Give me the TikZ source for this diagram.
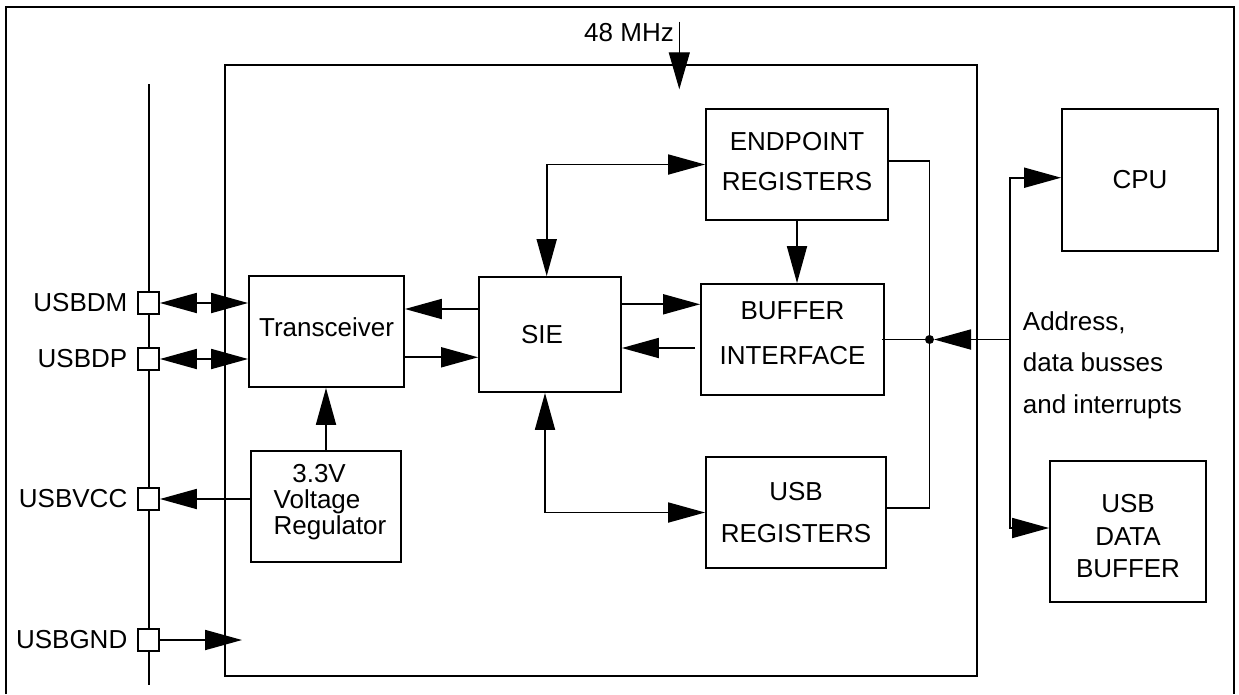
\documentclass[tikz,border=0pt]{standalone}
\usepackage{fontspec}
\setmainfont{Liberation Sans}
\usetikzlibrary{arrows.meta}
\newcommand\dropby[1]{\rule[-#1]{0pt}{#1}}
\newcommand\liftby[1]{\rule{0pt}{#1}}
\begin{document}
\begin{tikzpicture}[x=1pt,y=-1pt,
  font=\fontsize{26}{31}\selectfont,
  blk/.style={draw,line width=1.8pt,inner sep=0pt,align=center},
  pin/.style={draw,fill=white,line width=1.8pt,minimum width=21pt,minimum height=22pt,inner sep=0pt},
  lbl/.style={inner sep=0pt},
  conn/.style={line width=1.8pt},
  arr/.style={conn,-{Triangle[length=37pt,width=20pt]}},
  darr/.style={conn,{Triangle[length=37pt,width=20pt]}-{Triangle[length=37pt,width=20pt]}},
  frame/.style={line width=2.4pt}]
\useasboundingbox (0,0) rectangle (1239,694);
% outer frame
\draw[frame] (6,694) -- (6,7) -- (1234,7) -- (1234,694);
% chip
\node[draw,line width=2.4pt,minimum width=752pt,minimum height=611pt,inner sep=0pt] (chip) at (601,370.5) {};
% left bus
\coordinate (bustop) at (148.5,84);
\coordinate (busbot) at (148.5,685);
\draw[line width=2pt] (bustop) -- (busbot);
% pins
\node[pin] (pDM) at (148.5,303) {};
\node[pin] (pDP) at (148.5,359) {};
\node[pin] (pVCC) at (148.5,499) {};
\node[pin] (pGND) at (148.5,640) {};
\node[lbl,anchor=east] (lDM) at (127.5,303) {USBDM};
\node[lbl,anchor=east] (lDP) at (127.5,359) {USBDP};
\node[lbl,anchor=east] (lVCC) at (127.5,499) {USBVCC};
\node[lbl,anchor=east] (lGND) at (127.5,640) {USBGND};
% blocks
\node[blk,minimum width=155pt,minimum height=111pt] (trans) at (326.5,331.5) {Transceiver\dropby{8pt}};
\node[blk,align=left,minimum width=150pt,minimum height=111pt,font=\fontsize{26}{26}\selectfont] (reg) at (326,506.5)
  {\hspace*{26.7pt}3.3V\\\hspace*{8pt}Voltage\\\hspace*{8pt}Regulator\dropby{13.5pt}};
\node[blk,minimum width=142pt,minimum height=115pt] (sie) at (550,334.5) {SIE\hspace*{16pt}};
\node[blk,minimum width=183pt,minimum height=111pt,font=\fontsize{26}{45}\selectfont] (buf) at (792.5,339.5) {BUFFER\\INTERFACE\dropby{13pt}};
\node[blk,minimum width=182pt,minimum height=111pt,font=\fontsize{26}{40}\selectfont] (endp) at (797,164.5) {ENDPOINT\\REGISTERS\dropby{7pt}};
\node[blk,minimum width=180pt,minimum height=111pt,font=\fontsize{26}{42}\selectfont] (usbreg) at (796,512.5) {USB\\REGISTERS};
\node[blk,minimum width=156pt,minimum height=141.5pt] (cpu) at (1140,180) {CPU};
\node[blk,minimum width=156pt,minimum height=141pt,font=\fontsize{26}{32.3}\selectfont] (udb) at (1128,531.5) {\liftby{27.6pt}USB\\DATA\\BUFFER};
% clock
\coordinate (clkin) at (679.3,21.7);
\coordinate (clkout) at (679.3,89.3);
\draw[line width=1.2pt,-{Triangle[length=37pt,width=21pt]}] (clkin) -- (clkout);
\node[lbl,anchor=base east] (clklbl) at (674,41.7) {48 MHz};
% pin connectors
\draw[darr] (pDM.east) -- ([yshift=28.5pt]trans.west);
\draw[darr] (pDP.east) -- ([yshift=-27.5pt]trans.west);
\draw[arr] ([yshift=7.5pt]reg.west) -- (pVCC.east);
\coordinate (gndtip) at (242,640);
\draw[arr] (pGND.east) -- (gndtip);
\draw[arr] (reg.north) -- (reg.north |- trans.south);
% transceiver <-> SIE
\draw[arr] ([yshift=25.5pt]sie.west) -- ([yshift=22.5pt]trans.east);
\draw[arr] ([yshift=-25.8pt]trans.east) -- ([yshift=-22.8pt]sie.west);
% SIE <-> buffer
\draw[arr] ([yshift=30.2pt]sie.east) -- ([yshift=35.2pt]buf.west);
\draw[arr] ([xshift=-5pt,yshift=-8.5pt]buf.west) -- ([yshift=-13.5pt]sie.east);
% endpoint -> buffer
\draw[arr] (endp.south) -- (endp.south |- buf.north);
% SIE <-> endpoint, SIE <-> USB registers
\draw[darr] ([xshift=-3.3pt]sie.north) |- (endp.west);
\draw[darr] ([xshift=-5pt]sie.south) |- (usbreg.west);
% internal bus
\coordinate (J) at (929.5,339.5);
\coordinate (B) at (1010,339.5);
\draw[conn] ([yshift=3.5pt]endp.east) -| (J) |- ([yshift=4.5pt]usbreg.east);
\draw[conn] ([xshift=-3pt]buf.east) -- (J);
\fill (J) circle (4.5pt);
\draw[arr,shorten >=4.5pt] (B) -- (J);
\draw[arr] (B) |- ([yshift=2.3pt]cpu.west);
\draw[arr] (B) |- ([yshift=3.5pt]udb.west);
\node[lbl,anchor=north west,align=left,font=\fontsize{26}{41.5}\selectfont] (addr) at (1022.7,311.4) {Address,\\data busses\\and interrupts};
\end{tikzpicture}
\end{document}
